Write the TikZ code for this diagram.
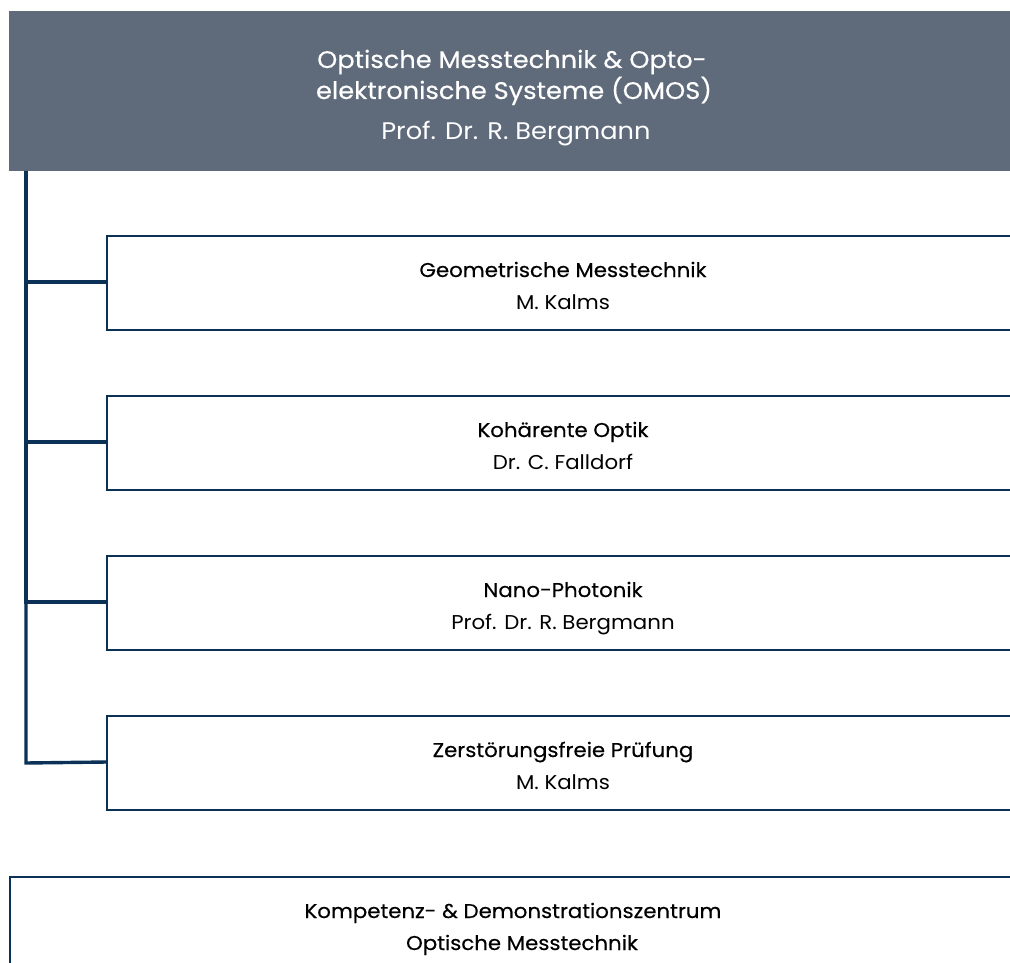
\documentclass[tikz,border=0pt]{standalone}
\usepackage{fontspec}
\setmainfont[FakeStretch=1.065]{Poppins}
\newfontfamily\hdfont[FakeStretch=1.065,FakeBold=0.35]{Poppins}
\newfontfamily\ttlfont[FakeStretch=1.07,FakeBold=0.35]{Poppins}
\newfontfamily\ttlnfont[FakeStretch=1.07]{Poppins}
\definecolor{headfill}{HTML}{5F6B7B}
\definecolor{navy}{HTML}{0B3157}
\begin{document}
\begin{tikzpicture}[x=1pt,y=-1pt,
  unitbox/.style={draw=navy,line width=1.7pt},
  conn/.style={draw=navy,line width=3.4pt},
  txt/.style={anchor=base,inner sep=0pt,text=black,font=\fontsize{20}{24}\selectfont},
  hdtxt/.style={txt,font=\fontsize{20}{24}\selectfont\hdfont},
  ttl/.style={anchor=base,inner sep=0pt,text=white,font=\fontsize{24}{28}\selectfont\ttlfont}]
\useasboundingbox (0,0) rectangle (1010,963);
% head
\fill[headfill] (9,11) rectangle (1010,171);
\node[ttl] (head1) at (512,68) {Optische Messtechnik \& Opto-};
\node[ttl] (head2) at (514,99) {elektronische Systeme (OMOS)};
\node[ttl,font=\fontsize{24}{28}\selectfont\ttlnfont] (headname) at (516,140) {Prof. Dr. R. Bergmann};
\coordinate (top) at (26,171);
% boxes
\foreach \i/\t/\n/\y in {1/Geometrische Messtechnik/M. Kalms/236,
                          2/Kohärente Optik/Dr. C. Falldorf/396,
                          3/Nano-Photonik/Prof. Dr. R. Bergmann/556,
                          4/Zerstörungsfreie Prüfung/M. Kalms/716}{
  \draw[unitbox] (1030,\y) -- (107,\y) -- (107,\y+94) -- (1030,\y+94);
  \coordinate (b\i) at (107,\y+46);
  \node[hdtxt] (t\i) at (563,\y+41) {\t};
  \node[txt] (n\i) at (563,\y+73) {\n};
}
\draw[conn] (top) -- (26,763) -- (b4);
\foreach \i in {1,2,3}{ \draw[conn] (b\i) -| (top); }
% bottom box
\draw[unitbox] (1030,877) -- (10,877) -- (10,980);
\node[hdtxt] (k1) at (513,918) {Kompetenz- \& Demonstrationszentrum};
\node[hdtxt] (k2) at (522,950) {Optische Messtechnik};
\end{tikzpicture}
\end{document}
